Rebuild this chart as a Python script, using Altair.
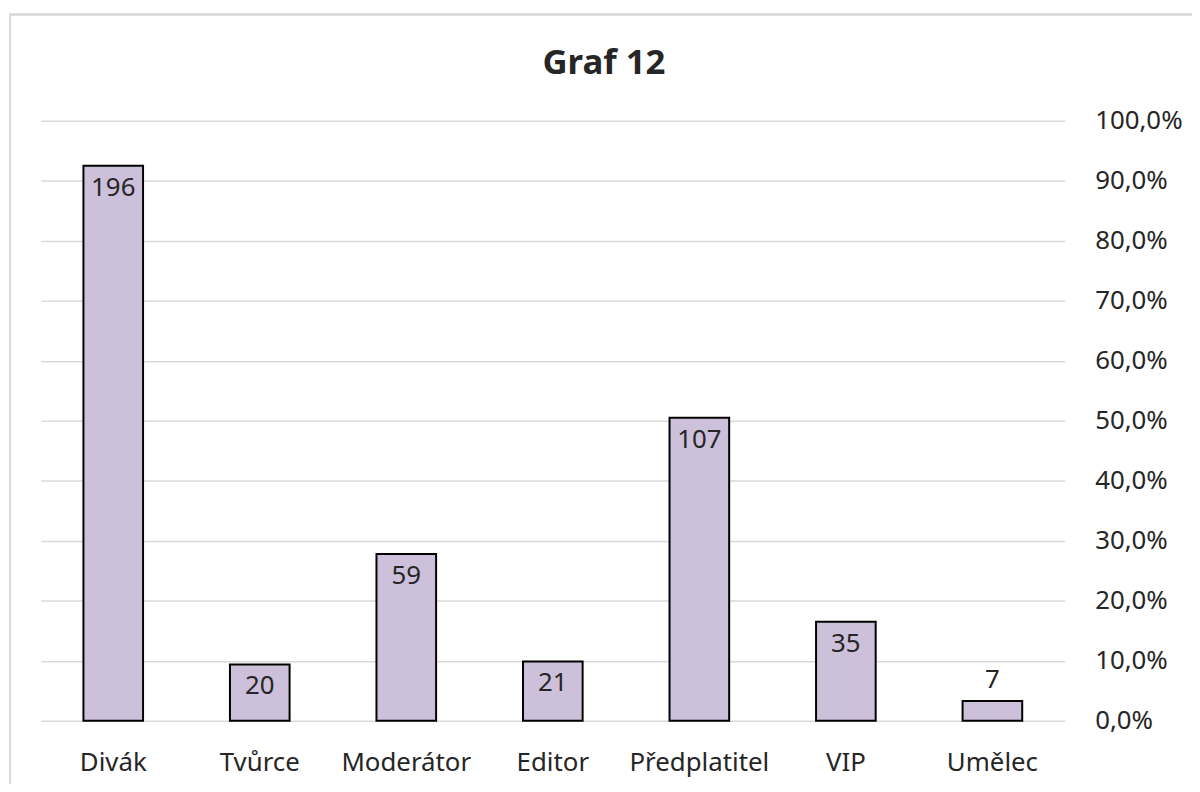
import altair as alt
import pandas as pd

categories = ["Divák", "Tvůrce", "Moderátor", "Editor", "Předplatitel", "VIP", "Umělec"]
counts = [196, 20, 59, 21, 107, 35, 7]
percents = [92.5, 9.4, 27.8, 9.9, 50.5, 16.5, 3.3]
title_text = ["Graf 12"]

df = pd.DataFrame({"cat": categories, "count": counts, "pct": percents})
tdf = pd.DataFrame({"t": title_text})

FONT = "Noto Sans"
TXT = "#262626"
FS = 26

x = alt.X("cat:N", sort=categories, title=None,
          scale=alt.Scale(paddingInner=0.593, paddingOuter=0.291),
          axis=alt.Axis(labelAngle=0, ticks=False, domain=False, labelFont=FONT,
                        labelFontSize=FS, labelColor=TXT, labelPadding=29, grid=False))
y = alt.Y("pct:Q", title=None,
          scale=alt.Scale(domain=[0, 100], nice=False),
          axis=alt.Axis(orient="right", values=list(range(0, 101, 10)), ticks=False,
                        domain=False, gridColor="#d9d9d9", gridWidth=1.5,
                        labelFont=FONT, labelFontSize=FS, labelColor=TXT, labelPadding=30,
                        labelExpr="replace(format(datum.value, '.1f'), '.', ',') + '%'"))

border = alt.Chart(df).mark_rect(fill=None, stroke="#d9d9d9", strokeWidth=1.5).encode(
    x=alt.value(-31), x2=alt.value(1160), y=alt.value(-107), y2=alt.value(700)
)

title = alt.Chart(tdf).mark_text(font=FONT, fontSize=35, fontWeight="bold", color=TXT,
                                 baseline="alphabetic", align="center").encode(
    text="t:N", x=alt.value(567), y=alt.value(-47)
)

bars = alt.Chart(df).mark_bar(color="#CCC0DA", stroke="black", strokeWidth=2).encode(x=x, y=y)

inside = alt.Chart(df).transform_filter("datum.pct >= 6").mark_text(
    baseline="top", dy=9, font=FONT, fontSize=FS, color=TXT
).encode(x=alt.X("cat:N", sort=categories), y="pct:Q", text="count:Q")

outside = alt.Chart(df).transform_filter("datum.pct < 6").mark_text(
    baseline="alphabetic", dy=-13, font=FONT, fontSize=FS, color=TXT
).encode(x=alt.X("cat:N", sort=categories), y="pct:Q", text="count:Q")

chart = alt.layer(border, title, bars, inside, outside).properties(
    width=1031, height=604,
    autosize=alt.AutoSizeParams(type="none"),
    padding={"left": 33, "top": 111, "right": 128, "bottom": 61},
).configure_view(stroke=None)

chart.save("out.html", embed_options={"renderer": "svg", "actions": False})
